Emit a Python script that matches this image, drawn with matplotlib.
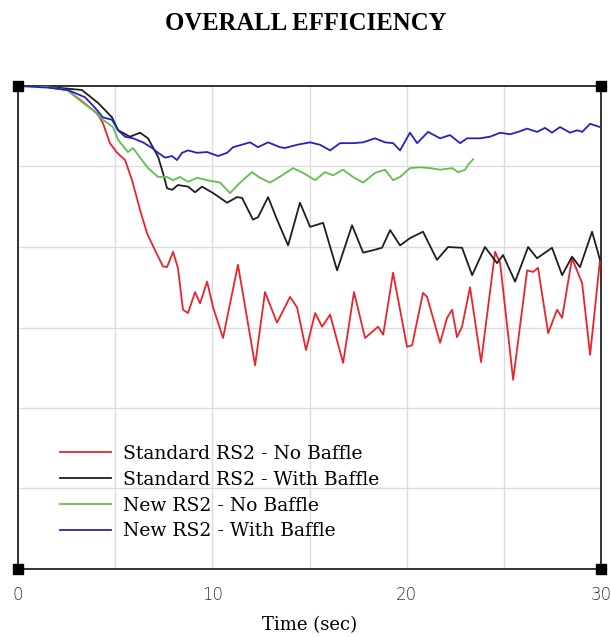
import matplotlib
matplotlib.use("Agg")
import matplotlib.pyplot as plt

# ---------------- data (time in s, overall efficiency in %) ----------------
std_nobaffle_t = [0, 1.13, 2.52, 3.19, 4.07, 4.37, 4.73, 5.10, 5.51, 5.87, 6.28, 6.64, 7.05, 7.46,
                  7.67, 7.98, 8.23, 8.49, 8.75, 9.11, 9.37, 9.73, 10.04, 10.55, 11.32, 12.20,
                  12.71, 13.33, 14.00, 14.36, 14.82, 15.29, 15.65, 16.06, 16.73, 17.29, 17.86,
                  18.53, 18.79, 19.30, 20.02, 20.28, 20.84, 21.05, 21.72, 22.08, 22.34, 22.59,
                  22.85, 23.26, 23.83, 24.55, 24.81, 25.48, 26.20, 26.51, 26.76, 27.28, 27.74,
                  28.00, 28.51, 29.03, 29.44, 29.95]
std_nobaffle_v = [100, 100, 99.5, 98.3, 96.6, 95.4, 92.9, 91.7, 90.8, 88.3, 84.6, 81.7, 79.6, 77.6,
                  77.5, 79.4, 77.4, 72.2, 71.8, 74.4, 73.0, 75.7, 72.5, 68.7, 77.8, 65.3,
                  74.4, 70.6, 73.8, 72.5, 67.2, 71.8, 70.1, 71.6, 65.6, 74.4, 68.7,
                  70.1, 69.1, 76.8, 67.6, 67.8, 74.3, 73.8, 68.1, 71.2, 72.2, 68.8,
                  70.1, 75.0, 65.7, 79.4, 78.0, 63.5, 77.1, 76.9, 77.4, 69.3, 72.2,
                  71.2, 78.6, 75.5, 66.6, 78.4]

std_baffle_t = [0, 1.13, 3.29, 4.12, 4.84, 5.15, 5.76, 6.28, 6.69, 7.21, 7.46, 7.67, 7.93, 8.23,
                8.75, 9.11, 9.47, 10.04, 10.76, 11.27, 11.53, 12.09, 12.35, 12.87, 13.33, 13.90,
                14.51, 15.03, 15.70, 16.42, 17.19, 17.76, 18.27, 18.73, 19.15, 19.66, 20.17,
                20.84, 21.56, 22.13, 22.85, 23.37, 24.03, 24.65, 24.96, 25.58, 26.25, 26.71,
                27.48, 28.00, 28.51, 28.92, 29.54, 29.95]
std_baffle_v = [100, 100, 99.5, 97.9, 96.1, 94.5, 93.7, 94.2, 93.5, 91.2, 89.2, 87.3, 87.1, 87.7,
                87.5, 86.8, 87.5, 86.7, 85.5, 86.2, 86.1, 83.4, 83.7, 86.2, 83.4, 80.2,
                85.5, 82.5, 83.0, 77.1, 82.7, 79.3, 79.6, 79.9, 82.1, 80.2, 81.1,
                81.9, 78.4, 80.0, 79.9, 76.5, 80.0, 78.0, 79.0, 75.7, 80.0, 78.6,
                79.9, 76.5, 78.8, 77.5, 81.9, 78.4]

new_nobaffle_t = [0, 1.13, 2.52, 3.35, 3.86, 4.37, 4.89, 5.15, 5.66, 5.92, 6.28, 6.69, 7.21, 7.67,
                  7.98, 8.34, 8.75, 9.21, 9.73, 10.40, 10.91, 11.43, 12.04, 12.45, 12.97, 13.59,
                  14.15, 14.67, 15.29, 15.80, 16.21, 16.73, 17.24, 17.76, 18.37, 18.89, 19.30,
                  19.66, 20.17, 20.69, 21.20, 21.72, 22.34, 22.65, 23.01, 23.16, 23.42]
new_nobaffle_v = [100, 100, 99.5, 97.9, 97.0, 95.8, 94.9, 93.3, 91.8, 92.3, 91.1, 89.8, 88.7, 88.7,
                  88.3, 88.7, 88.1, 88.6, 88.3, 88.0, 86.7, 88.0, 89.3, 88.6, 88.0, 88.9,
                  89.8, 89.2, 88.3, 89.3, 88.9, 89.6, 88.7, 88.0, 89.2, 89.6, 88.3,
                  88.7, 89.8, 89.9, 89.8, 89.6, 89.8, 89.3, 89.6, 90.2, 90.9]

new_baffle_t = [0, 1.54, 2.57, 3.45, 3.96, 4.37, 4.84, 5.15, 5.51, 5.92, 6.43, 6.90, 7.21, 7.57,
                7.93, 8.18, 8.44, 8.75, 9.21, 9.73, 10.29, 10.76, 11.07, 11.94, 12.35, 12.87,
                13.48, 13.74, 14.36, 15.03, 15.54, 16.06, 16.57, 17.24, 17.76, 18.37, 18.89,
                19.30, 19.66, 20.17, 20.54, 21.10, 21.72, 22.23, 22.75, 23.11, 23.78, 24.29,
                24.81, 25.32, 25.73, 26.20, 26.71, 27.12, 27.48, 27.89, 28.41, 28.77, 29.03,
                29.44, 29.95]
new_baffle_v = [100, 99.8, 99.5, 98.6, 97.3, 96.1, 95.8, 94.5, 93.7, 93.5, 93.0, 92.3, 91.7, 91.1,
                91.3, 90.8, 91.7, 92.0, 91.7, 91.8, 91.3, 91.7, 92.4, 93.0, 92.4, 93.0,
                92.4, 92.3, 92.7, 93.0, 92.7, 92.0, 92.9, 92.9, 93.0, 93.5, 93.0,
                92.9, 92.0, 94.2, 92.9, 94.3, 93.5, 93.9, 92.9, 93.5, 93.5, 93.7,
                94.2, 94.0, 94.3, 94.7, 94.3, 94.8, 94.2, 94.9, 94.2, 94.5, 94.3,
                95.3, 94.9]

series_labels = ["Standard RS2 - No Baffle", "Standard RS2 - With Baffle",
                 "New RS2 - No Baffle", "New RS2 - With Baffle"]
series_colors = ["#e8242c", "#1e1e1e", "#62bf4f", "#2323c4"]

x_ticks = [0, 10, 20, 30]
x_tick_labels = ["0", "10", "20", "30"]

# ---------------- figure ----------------
W, H = 611, 637
fig = plt.figure(figsize=(W / 100, H / 100), dpi=100)
L, R, T, B = 18, 601, 86, 569
ax = fig.add_axes([L / W, 1 - B / H, (R - L) / W, (B - T) / H])

series = [(std_nobaffle_t, std_nobaffle_v), (std_baffle_t, std_baffle_v),
          (new_nobaffle_t, new_nobaffle_v), (new_baffle_t, new_baffle_v)]
for (t, v), lab, col in zip(series, series_labels, series_colors):
    ax.plot(t, v, color=col, lw=1.3, label=lab, zorder=3)

ax.set_xlim(0, 30)
ax.set_ylim(40, 100)
ax.set_xticks(x_ticks)
ax.set_xticklabels(x_tick_labels)
ax.set_xticks([5, 15, 25], minor=True)
ax.set_yticks([50, 60, 70, 80, 90])
ax.tick_params(axis="y", left=False, labelleft=False)
ax.tick_params(axis="x", which="both", length=0, pad=12, labelsize=12, labelcolor="#333333")
for lab in ax.get_xticklabels():
    lab.set_fontfamily("DejaVu Sans")
    lab.set_fontweight("light")
ax.grid(True, which="both", color="#dcdcdc", lw=1.0, zorder=0)
for sp in ax.spines.values():
    sp.set_color("#333333")
    sp.set_linewidth(1.4)

# corner square markers
ax.plot([0, 1, 0, 1], [0, 0, 1, 1], ls="none", marker="s", ms=7, color="black",
        transform=ax.transAxes, clip_on=False, zorder=5)

leg = ax.legend(loc="center left", bbox_to_anchor=(0.072, 0.158), frameon=False,
                borderpad=0, borderaxespad=0, handlelength=2.7, handletextpad=0.65,
                labelspacing=0.42, prop={"family": "DejaVu Serif", "size": 13.5})
for line in leg.get_lines():
    line.set_linewidth(1.3)

ax.set_xlabel("Time (sec)", family="DejaVu Serif", fontsize=13, labelpad=9)

fig.text(0.5, 1 - 24 / H, "OVERALL EFFICIENCY", ha="center", va="center",
         family="Liberation Serif", fontweight="bold", fontsize=17.8)

fig.savefig("out.png", dpi=100)
